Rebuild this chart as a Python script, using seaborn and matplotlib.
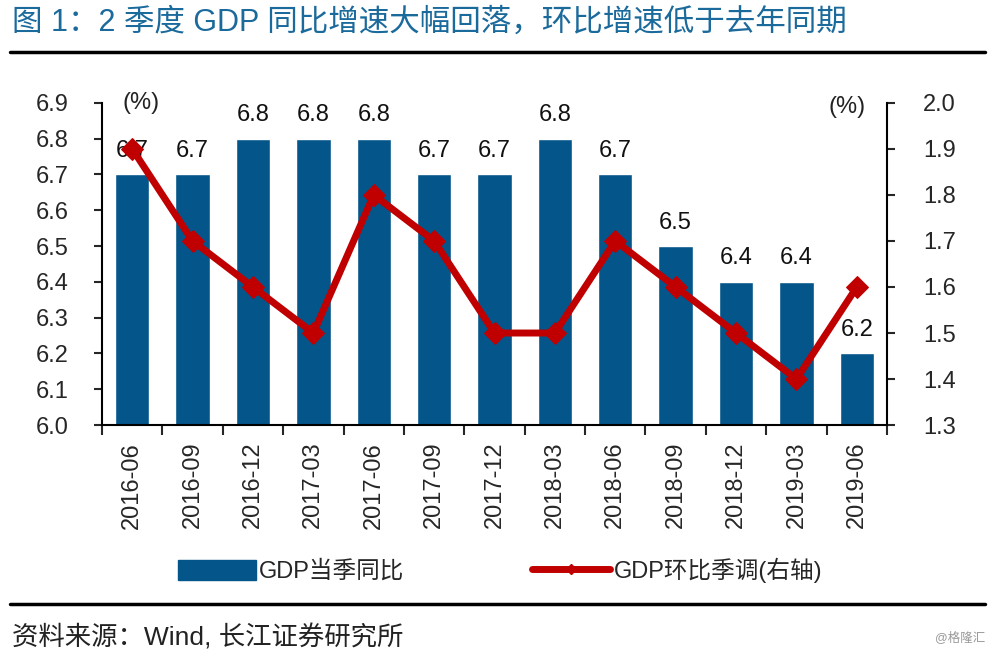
import matplotlib
matplotlib.use("Agg")
import matplotlib.pyplot as plt
import seaborn as sns
import pandas as pd
from matplotlib.lines import Line2D
from matplotlib.patches import Patch

quarters = ["2016-06", "2016-09", "2016-12", "2017-03", "2017-06", "2017-09", "2017-12",
            "2018-03", "2018-06", "2018-09", "2018-12", "2019-03", "2019-06"]
yoy = [6.7, 6.7, 6.8, 6.8, 6.8, 6.7, 6.7, 6.8, 6.7, 6.5, 6.4, 6.4, 6.2]
qoq = [1.9, 1.7, 1.6, 1.5, 1.8, 1.7, 1.5, 1.5, 1.7, 1.6, 1.5, 1.4, 1.6]
left_ticks = [6.0, 6.1, 6.2, 6.3, 6.4, 6.5, 6.6, 6.7, 6.8, 6.9]
right_ticks = [1.3, 1.4, 1.5, 1.6, 1.7, 1.8, 1.9, 2.0]

sns.set_style("white")
plt.rcParams['font.family'] = ['Liberation Sans', 'Noto Sans CJK SC', 'DejaVu Sans']

BLUE = "#04558A"
RED = "#C00000"
TITLE = "#1B6A9C"

df = pd.DataFrame({"q": quarters, "yoy": yoy, "qoq": qoq, "pos": range(len(quarters))})

fig = plt.figure(figsize=(10, 6.55), dpi=100)
ax = fig.add_axes([0.102, 0.351, 0.785, 0.492])
sns.barplot(data=df, x="q", y="yoy", color=BLUE, width=0.57, saturation=1, ax=ax)
ax.set_ylim(6.0, 6.9)
ax.set_xlim(-0.5, len(quarters) - 0.5)
ax.set_yticks(left_ticks)
ax.set_yticklabels([f"{v:.1f}" for v in left_ticks], fontsize=17)
ax.set_xticks(range(len(quarters)))
ax.set_xticklabels(quarters, rotation=90, fontsize=17)
ax.tick_params(axis='x', which='major', length=0, pad=12)
ax.set_xticks([i - 0.5 for i in range(len(quarters) + 1)], minor=True)
ax.tick_params(axis='x', which='minor', length=7, width=1.5, direction='out', bottom=True)
ax.tick_params(axis='y', length=6, width=1.5, direction='out', left=True, pad=18)
ax.set_xlabel("")
ax.set_ylabel("")
for s in ["left", "bottom"]:
    ax.spines[s].set_linewidth(1.5)
    ax.spines[s].set_color("black")
ax.spines["top"].set_visible(False)
ax.spines["right"].set_visible(False)

for i, v in enumerate(yoy):
    ax.annotate(f"{v:.1f}", (i, v), xytext=(0, 9), textcoords="offset points",
                ha="center", va="bottom", fontsize=17, color="#111111")

ax2 = ax.twinx()
sns.lineplot(data=df, x="pos", y="qoq", color=RED, linewidth=5, marker="D",
             markersize=11, markeredgecolor=RED, ax=ax2)
ax2.set_ylim(1.3, 2.0)
ax2.set_yticks(right_ticks)
ax2.set_yticklabels([f"{v:.1f}" for v in right_ticks], fontsize=17)
ax2.tick_params(axis='y', length=6, width=1.5, direction='out', right=True, pad=20)
ax2.set_ylabel("")
ax2.set_xlabel("")
ax2.set_xlim(-0.5, len(quarters) - 0.5)
for s in ["top", "left", "bottom"]:
    ax2.spines[s].set_visible(False)
ax2.spines["right"].set_linewidth(1.5)
ax2.spines["right"].set_color("black")

fig.text(0.141, 0.843, "(%)", fontsize=17, ha="center", va="center", color="#222222")
fig.text(0.847, 0.836, "(%)", fontsize=17, ha="center", va="center", color="#222222")

handles = [Patch(facecolor=BLUE, edgecolor=BLUE),
           Line2D([0], [0], color=RED, linewidth=5, marker="D", markersize=5)]
fig.legend(handles, ["GDP当季同比", "GDP环比季调(右轴)"], loc="center",
           bbox_to_anchor=(0.5, 0.129), ncol=2, frameon=False, fontsize=17,
           handlelength=3.3, handleheight=0.9, columnspacing=5.4, handletextpad=0.15)

fig.text(0.012, 0.966, "图 1：2 季度 GDP 同比增速大幅回落，环比增速低于去年同期",
         fontsize=22, color=TITLE, ha="left", va="center")
fig.add_artist(Line2D([0.01, 0.985], [0.921, 0.921], color="black", linewidth=2.5,
                      transform=fig.transFigure))
fig.add_artist(Line2D([0.01, 0.985], [0.078, 0.078], color="black", linewidth=2.5,
                      transform=fig.transFigure))
fig.text(0.012, 0.027, "资料来源：Wind, 长江证券研究所", fontsize=19, color="#222222",
         ha="left", va="center")
fig.text(0.985, 0.027, "@格隆汇", fontsize=9, color="#999999", ha="right", va="center")

fig.savefig("out.png", dpi=100)
